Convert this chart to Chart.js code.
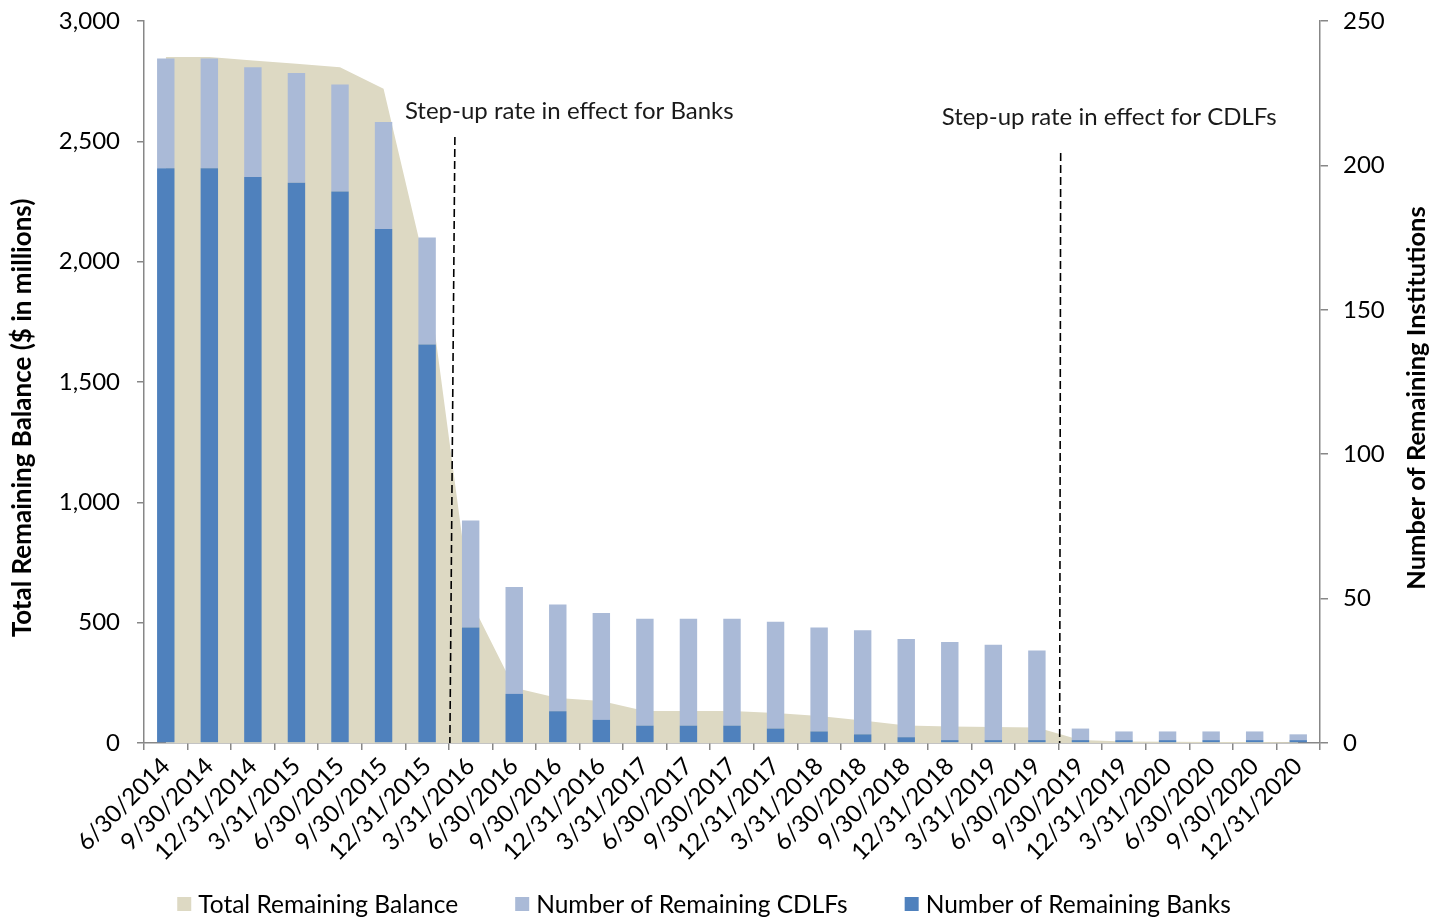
<!DOCTYPE html>
<html>
<head>
<meta charset="utf-8">
<script src="https://cdn.jsdelivr.net/npm/chart.js@4.4.1/dist/chart.umd.min.js"></script>
<style>
  html, body { margin: 0; padding: 0; background: #ffffff; }
  canvas { display: block; }
</style>
</head>
<body>
<canvas id="chart" width="1443" height="917"></canvas>
<script>
// Quarter-end reporting dates
const quarters = [
  '6/30/2014', '9/30/2014', '12/31/2014', '3/31/2015', '6/30/2015', '9/30/2015',
  '12/31/2015', '3/31/2016', '6/30/2016', '9/30/2016', '12/31/2016', '3/31/2017',
  '6/30/2017', '9/30/2017', '12/31/2017', '3/31/2018', '6/30/2018', '9/30/2018',
  '12/31/2018', '3/31/2019', '6/30/2019', '9/30/2019', '12/31/2019', '3/31/2020',
  '6/30/2020', '9/30/2020', '12/31/2020'
];

// Total remaining balance, $ millions (left axis)
const totalBalance = [
  2850, 2850, 2836, 2822, 2808, 2719, 1950, 590, 230, 187, 175, 133,
  133, 133, 125, 112, 93, 73, 69, 66, 64, 12, 6, 5, 4, 4, 3
];

// Remaining institutions (right axis), stacked: banks below CDLFs
const remainingBanks = [
  199, 199, 196, 194, 191, 178, 138, 40, 17, 11, 8, 6,
  6, 6, 5, 4, 3, 2, 1, 1, 1, 1, 1, 1, 1, 1, 1
];
const remainingCDLFs = [
  38, 38, 38, 38, 37, 37, 37, 37, 37, 37, 37, 37,
  37, 37, 37, 36, 36, 34, 34, 33, 31, 4, 3, 3, 3, 3, 2
];

const balanceTicks = [0, 500, 1000, 1500, 2000, 2500, 3000];
const institutionTicks = [0, 50, 100, 150, 200, 250];

// Dates after which the step-up dividend rate applied
const stepUpNotes = [
  { text: 'Step-up rate in effect for Banks', after: '12/31/2015' },
  { text: 'Step-up rate in effect for CDLFs', after: '6/30/2019' }
];

// ---- styling ----
const FONT = 'Lato, "Liberation Sans", sans-serif';
const AXIS_GRAY = '#878787';
const COLORS = { balance: '#DDD9C3', cdlfs: '#AABAD7', banks: '#4F81BD' };
const PLOT = { left: 144, right: 1320, top: 21, bottom: 743 };
const noteStyle = [
  { dx: -44, textY: 111, lineTop: 137, slant: 4 },
  { dx: -117, textY: 117, lineTop: 153, slant: 0 }
];

// keep the plot box fixed regardless of tick label overhang
function fixVertical(width) {
  return s => {
    s.width = width;
    s.paddingTop = 0;
    s.paddingBottom = 0;
  };
}

const overlayPlugin = {
  id: 'overlay',
  afterDatasetsDraw(chart) {
    const ctx = chart.ctx;
    const x = chart.scales.x;
    const yBottom = chart.chartArea.bottom;
    ctx.save();
    stepUpNotes.forEach((note, i) => {
      const idx = quarters.indexOf(note.after);
      const bx = (x.getPixelForValue(idx) + x.getPixelForValue(idx + 1)) / 2;
      const st = noteStyle[i];
      ctx.strokeStyle = '#000000';
      ctx.lineWidth = 1.6;
      ctx.setLineDash([8, 4]);
      ctx.beginPath();
      ctx.moveTo(bx + 2 + st.slant, st.lineTop);
      ctx.lineTo(bx + 1, yBottom);
      ctx.stroke();
      ctx.setLineDash([]);
      ctx.fillStyle = '#1a1a1a';
      ctx.font = '24px ' + FONT;
      ctx.textAlign = 'left';
      ctx.textBaseline = 'middle';
      ctx.fillText(note.text, bx + st.dx, st.textY);
    });
    ctx.restore();
  },
  afterDraw(chart) {
    const ctx = chart.ctx;
    ctx.save();
    // axis titles
    ctx.fillStyle = '#000000';
    ctx.textAlign = 'center';
    ctx.textBaseline = 'middle';
    ctx.save();
    ctx.font = 'bold 26px ' + FONT;
    ctx.translate(23, 418);
    ctx.rotate(-Math.PI / 2);
    ctx.fillText('Total Remaining Balance ($ in millions)', 0, 0);
    ctx.restore();
    ctx.save();
    ctx.font = 'bold 25.5px ' + FONT;
    ctx.translate(1417, 398);
    ctx.rotate(-Math.PI / 2);
    ctx.fillText('Number of Remaining Institutions', 0, 0);
    ctx.restore();

    // legend
    const items = [0, 2, 1].map(i => chart.data.datasets[i]);
    ctx.font = '24.5px ' + FONT;
    ctx.textAlign = 'left';
    const box = 14, gapText = 7, gapItem = 57;
    const widths = items.map(d => box + gapText + ctx.measureText(d.label).width);
    const total = widths.reduce((a, b) => a + b, 0) + gapItem * (items.length - 1);
    let cx = 704 - total / 2;
    const cy = 904;
    items.forEach((d, k) => {
      ctx.fillStyle = d.backgroundColor;
      ctx.fillRect(cx, cy - box / 2, box, box);
      ctx.fillStyle = '#000000';
      ctx.fillText(d.label, cx + box + gapText, cy + 1);
      cx += widths[k] + gapItem;
    });
    ctx.restore();
  }
};

new Chart(document.getElementById('chart'), {
  data: {
    labels: quarters,
    datasets: [
      {
        type: 'line',
        label: 'Total Remaining Balance',
        data: totalBalance,
        yAxisID: 'y',
        backgroundColor: COLORS.balance,
        borderColor: COLORS.balance,
        borderWidth: 0,
        pointRadius: 0,
        tension: 0,
        fill: 'origin',
        order: 2
      },
      {
        type: 'bar',
        label: 'Number of Remaining Banks',
        data: remainingBanks,
        yAxisID: 'yR',
        backgroundColor: COLORS.banks,
        barPercentage: 0.4,
        categoryPercentage: 1.0,
        order: 1
      },
      {
        type: 'bar',
        label: 'Number of Remaining CDLFs',
        data: remainingCDLFs,
        yAxisID: 'yR',
        backgroundColor: COLORS.cdlfs,
        barPercentage: 0.4,
        categoryPercentage: 1.0,
        order: 1
      }
    ]
  },
  options: {
    responsive: false,
    animation: false,
    layout: { padding: { top: PLOT.top, left: 0, right: 0, bottom: 0 } },
    plugins: {
      legend: { display: false },
      tooltip: { enabled: false }
    },
    scales: {
      x: {
        stacked: true,
        offset: true,
        grid: {
          offset: true,
          drawOnChartArea: false,
          drawTicks: true,
          tickLength: 7,
          color: AXIS_GRAY,
          lineWidth: 1.5
        },
        border: { display: true, color: AXIS_GRAY, width: 1.5 },
        ticks: {
          autoSkip: false,
          minRotation: 45,
          maxRotation: 45,
          padding: 2,
          color: '#000000',
          font: { family: FONT, size: 24 }
        },
        afterFit(s) { s.height = 917 - PLOT.bottom; }
      },
      y: {
        position: 'left',
        min: 0,
        max: 3000,
        afterBuildTicks(s) { s.ticks = balanceTicks.map(v => ({ value: v })); },
        grid: {
          drawOnChartArea: false,
          drawTicks: true,
          tickLength: 7,
          color: AXIS_GRAY,
          lineWidth: 1.5
        },
        border: { display: true, color: AXIS_GRAY, width: 1.5 },
        ticks: {
          padding: 17,
          color: '#000000',
          font: { family: FONT, size: 24 },
          callback: v => v.toLocaleString('en-US')
        },
        afterFit: fixVertical(PLOT.left)
      },
      yR: {
        position: 'right',
        stacked: true,
        min: 0,
        max: 250,
        afterBuildTicks(s) { s.ticks = institutionTicks.map(v => ({ value: v })); },
        grid: {
          drawOnChartArea: false,
          drawTicks: true,
          tickLength: 8,
          color: AXIS_GRAY,
          lineWidth: 1.5
        },
        border: { display: true, color: AXIS_GRAY, width: 1.5 },
        ticks: {
          padding: 15,
          color: '#000000',
          font: { family: FONT, size: 24 }
        },
        afterFit: fixVertical(1443 - PLOT.right)
      }
    }
  },
  plugins: [overlayPlugin]
});
</script>
</body>
</html>
